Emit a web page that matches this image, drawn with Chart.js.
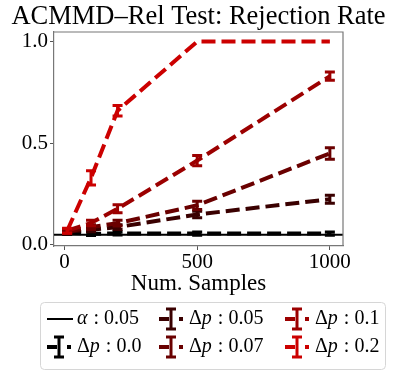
<!DOCTYPE html>
<html>
<head>
<meta charset="utf-8">
<script src="https://cdn.jsdelivr.net/npm/chart.js@4.4.1/dist/chart.umd.min.js"></script>
<style>
  html, body { margin: 0; padding: 0; background: #fff; }
  canvas { display: block; }
</style>
</head>
<body>
<canvas id="rejChart" width="397" height="372"></canvas>
<script>
// sample sizes on the x axis
const numSamples = [10, 100, 200, 500, 1000];
const deltaP = ["0.0", "0.05", "0.07", "0.1", "0.2"];

// rejection rates, one array per delta p
const rate00 = [0.060, 0.055, 0.057, 0.056, 0.056];
const rate005 = [0.065, 0.075, 0.088, 0.150, 0.225];
const rate007 = [0.065, 0.088, 0.107, 0.195, 0.450];
const rate01 = [0.070, 0.108, 0.178, 0.415, 0.830];
const rate02 = [0.070, 0.330, 0.660, 1.000, 1.000];

// half widths of the error bars
const err00 = [0.008, 0.008, 0.008, 0.008, 0.008];
const err005 = [0.010, 0.010, 0.012, 0.016, 0.020];
const err007 = [0.010, 0.012, 0.014, 0.020, 0.028];
const err01 = [0.010, 0.014, 0.020, 0.025, 0.020];
const err02 = [0.012, 0.035, 0.026, 0.000, 0.000];

const alphaLevel = 0.05;
const xTicks = [0, 500, 1000];
const yTicks = [0, 0.5, 1.0];
const titleText = "ACMMD–Rel Test: Rejection Rate";

const colors = ["#000000", "#3a0000", "#6a0000", "#9c0000", "#cc0000"];
const rates = [rate00, rate005, rate007, rate01, rate02];
const errs = [err00, err005, err007, err01, err02];

const serif = "'Liberation Serif', 'Times New Roman', serif";

const datasets = rates.map(function (vals, i) {
    return {
        label: "Δp : " + deltaP[i],
        data: vals.map(function (v, j) { return { x: numSamples[j], y: v }; }),
        errors: errs[i],
        borderColor: colors[i],
        borderWidth: 4,
        borderDash: [14, 6],
        pointRadius: 0,
        fill: false,
        tension: 0,
        order: rates.length - 1 - i
    };
});

const extrasPlugin = {
    id: "extras",
    beforeDatasetsDraw(chart) {
        // alpha level line
        const { ctx, chartArea } = chart;
        const y = chart.scales.y.getPixelForValue(alphaLevel);
        ctx.save();
        ctx.strokeStyle = "#000";
        ctx.lineWidth = 2;
        ctx.beginPath();
        ctx.moveTo(chartArea.left, y);
        ctx.lineTo(chartArea.right, y);
        ctx.stroke();
        ctx.restore();
    },
    afterDatasetDraw(chart, args) {
        const ds = chart.data.datasets[args.index];
        const { ctx } = chart;
        const xs = chart.scales.x, ys = chart.scales.y;
        ctx.save();
        ctx.strokeStyle = ds.borderColor;
        ctx.lineWidth = 3;
        ds.data.forEach(function (p, j) {
            const e = ds.errors[j];
            if (!e) return;
            const px = xs.getPixelForValue(p.x);
            const top = ys.getPixelForValue(p.y + e);
            const bot = ys.getPixelForValue(p.y - e);
            ctx.beginPath();
            ctx.moveTo(px, top); ctx.lineTo(px, bot);
            ctx.moveTo(px - 5, top); ctx.lineTo(px + 5, top);
            ctx.moveTo(px - 5, bot); ctx.lineTo(px + 5, bot);
            ctx.stroke();
        });
        ctx.restore();
    },
    afterDraw(chart) {
        const { ctx, chartArea } = chart;
        ctx.save();
        // title, drawn here so it is not squeezed into the padded box
        ctx.fillStyle = "#000";
        ctx.font = "26.5px " + serif;
        ctx.textAlign = "center";
        ctx.textBaseline = "alphabetic";
        ctx.fillText(titleText, chart.width / 2, 24);

        // top and right spines
        ctx.strokeStyle = "#777";
        ctx.lineWidth = 1.2;
        ctx.beginPath();
        ctx.moveTo(chartArea.left, chartArea.top);
        ctx.lineTo(chartArea.right, chartArea.top);
        ctx.lineTo(chartArea.right, chartArea.bottom);
        ctx.stroke();

        // legend box
        const bx = 40.5, by = 302.5, bw = 345, bh = 67, r = 4;
        ctx.beginPath();
        ctx.moveTo(bx + r, by);
        ctx.arcTo(bx + bw, by, bx + bw, by + bh, r);
        ctx.arcTo(bx + bw, by + bh, bx, by + bh, r);
        ctx.arcTo(bx, by + bh, bx, by, r);
        ctx.arcTo(bx, by, bx + bw, by, r);
        ctx.closePath();
        ctx.fillStyle = "rgba(255,255,255,0.85)";
        ctx.fill();
        ctx.strokeStyle = "#d6d6d6";
        ctx.lineWidth = 1;
        ctx.stroke();

        const rows = [319, 347];
        const cols = [47, 159, 285];
        const fs = 20;
        function drawText(parts, x, y) {
            ctx.textBaseline = "middle";
            ctx.textAlign = "left";
            ctx.fillStyle = "#000";
            parts.forEach(function (pt) {
                ctx.font = (pt[1] ? "italic " : "") + fs + "px " + serif;
                ctx.fillText(pt[0], x, y);
                x += ctx.measureText(pt[0]).width + (pt[2] || 0);
            });
        }
        // alpha entry
        ctx.strokeStyle = "#000";
        ctx.lineWidth = 2;
        ctx.beginPath();
        ctx.moveTo(cols[0], rows[0]); ctx.lineTo(cols[0] + 26, rows[0]);
        ctx.stroke();
        drawText([["α", true, 1], [" : " + alphaLevel.toFixed(2), false]], cols[0] + 30, rows[0]);

        // series entries, filled column by column after alpha
        datasets.forEach(function (ds, i) {
            const slot = i + 1;
            const cx = cols[Math.floor(slot / 2)];
            const cy = rows[slot % 2];
            const mid = cx + 12;
            ctx.strokeStyle = ds.borderColor;
            ctx.lineWidth = 4;
            ctx.beginPath();
            ctx.moveTo(cx, cy); ctx.lineTo(cx + 10, cy);
            ctx.moveTo(cx + 20, cy); ctx.lineTo(cx + 24, cy);
            ctx.stroke();
            ctx.lineWidth = 3;
            ctx.beginPath();
            ctx.moveTo(mid, cy - 10); ctx.lineTo(mid, cy + 10);
            ctx.moveTo(mid - 5, cy - 10); ctx.lineTo(mid + 5, cy - 10);
            ctx.moveTo(mid - 5, cy + 10); ctx.lineTo(mid + 5, cy + 10);
            ctx.stroke();
            drawText([["Δ", false], ["p", true, 1], [" : " + deltaP[i], false]], cx + 30, cy);
        });
        ctx.restore();
    }
};

new Chart(document.getElementById("rejChart").getContext("2d"), {
    type: "line",
    data: { datasets: datasets },
    plugins: [extrasPlugin],
    options: {
        responsive: false,
        animation: false,
        layout: { padding: { left: 0, right: 54, top: 32, bottom: 74 } },
        plugins: {
            legend: { display: false },
            tooltip: { enabled: false },
            title: { display: false }
        },
        scales: {
            x: {
                type: "linear",
                min: -39.5,
                max: 1049.5,
                afterBuildTicks: function (s) { s.ticks = xTicks.map(function (v) { return { value: v }; }); },
                afterFit: function (s) { s.height = 52; },
                ticks: {
                    color: "#000",
                    font: { family: serif, size: 21 },
                    padding: 0,
                    maxRotation: 0,
                    callback: function (v) { return String(v); }
                },
                grid: { display: true, drawOnChartArea: false, drawTicks: true, tickLength: 4, color: "#555" },
                border: { display: true, color: "#777", width: 1.2 },
                title: {
                    display: true,
                    text: "Num. Samples",
                    color: "#000",
                    font: { family: serif, size: 23, lineHeight: 1.2 },
                    padding: { top: 0, bottom: 0 }
                }
            },
            y: {
                min: -0.005,
                max: 1.047,
                afterBuildTicks: function (s) { s.ticks = yTicks.map(function (v) { return { value: v }; }); },
                afterFit: function (s) { s.width = 54; },
                ticks: {
                    color: "#000",
                    font: { family: serif, size: 21 },
                    padding: 2,
                    callback: function (v) { return Number(v).toFixed(1); }
                },
                grid: { display: true, drawOnChartArea: false, drawTicks: true, tickLength: 4, color: "#555" },
                border: { display: true, color: "#777", width: 1.2 }
            }
        }
    }
});
</script>
</body>
</html>
